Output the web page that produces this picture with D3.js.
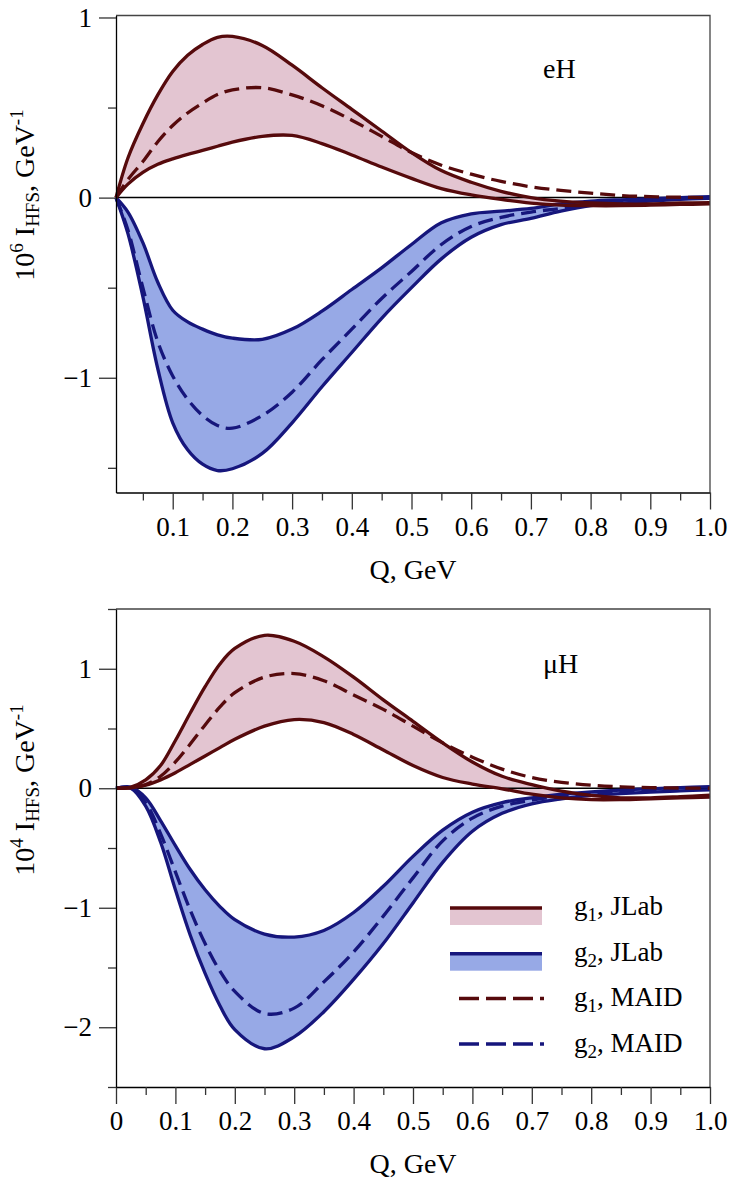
<!DOCTYPE html>
<html>
<head>
<meta charset="utf-8">
<script src="https://cdn.jsdelivr.net/npm/d3@7"></script>
<style>
  body { margin: 0; background: #fff; }
  svg { font-family: "Liberation Serif", "DejaVu Serif", serif; }
</style>
</head>
<body>
<svg id="chart" width="750" height="1188"></svg>
<script>
// Q grid (GeV)
var qEH = [0.005, 0.025, 0.05, 0.075, 0.1, 0.125, 0.15, 0.175, 0.2, 0.25, 0.3, 0.35, 0.4, 0.45, 0.5, 0.55, 0.6, 0.65, 0.7, 0.75, 0.8, 0.85, 0.9, 0.95, 1.0]
var qMuH = [0, 0.025, 0.05, 0.075, 0.1, 0.125, 0.15, 0.175, 0.2, 0.25, 0.3, 0.35, 0.4, 0.45, 0.5, 0.55, 0.6, 0.65, 0.7, 0.75, 0.8, 0.85, 0.9, 0.95, 1.0]

// eH, 10^6 I_HFS
var eH_g1_hi = [0, 0.22, 0.41, 0.57, 0.7, 0.79, 0.85, 0.89, 0.895, 0.845, 0.735, 0.61, 0.49, 0.37, 0.25, 0.15, 0.085, 0.035, 0.0, -0.02, -0.03, -0.035, -0.035, -0.03, -0.028]
var eH_g1_lo = [0, 0.075, 0.14, 0.185, 0.215, 0.24, 0.262, 0.285, 0.308, 0.34, 0.345, 0.30, 0.237, 0.17, 0.107, 0.05, 0.015, -0.01, -0.03, -0.042, -0.045, -0.045, -0.042, -0.038, -0.035]
var eH_g1_maid = [0, 0.1, 0.2, 0.31, 0.4, 0.47, 0.525, 0.572, 0.598, 0.61, 0.57, 0.51, 0.43, 0.34, 0.25, 0.18, 0.13, 0.09, 0.06, 0.04, 0.025, 0.012, 0.005, 0.002, 0]
var eH_g2_hi = [0, -0.08, -0.25, -0.47, -0.625, -0.69, -0.73, -0.762, -0.78, -0.787, -0.73, -0.63, -0.51, -0.39, -0.26, -0.14, -0.09, -0.075, -0.06, -0.035, -0.02, -0.012, -0.006, 0.0, 0.005]
var eH_g2_lo = [0, -0.2, -0.55, -0.95, -1.25, -1.4, -1.48, -1.515, -1.505, -1.42, -1.25, -1.05, -0.86, -0.67, -0.5, -0.34, -0.22, -0.15, -0.115, -0.075, -0.045, -0.03, -0.02, -0.01, -0.004]
var eH_g2_maid = [0, -0.18, -0.5, -0.8, -0.99, -1.12, -1.21, -1.265, -1.28, -1.21, -1.08, -0.9, -0.73, -0.56, -0.41, -0.26, -0.16, -0.11, -0.08, -0.06, -0.035, -0.02, -0.012, -0.006, -0.002]

// muH, 10^4 I_HFS
var muH_g1_hi = [0, 0.01, 0.07, 0.19, 0.4, 0.63, 0.85, 1.04, 1.17, 1.28, 1.23, 1.1, 0.93, 0.74, 0.56, 0.38, 0.22, 0.1, 0.03, -0.025, -0.06, -0.08, -0.08, -0.07, -0.058]
var muH_g1_lo = [0, 0.003, 0.025, 0.07, 0.13, 0.2, 0.27, 0.34, 0.41, 0.52, 0.575, 0.55, 0.45, 0.32, 0.19, 0.09, 0.035, -0.005, -0.05, -0.08, -0.095, -0.095, -0.088, -0.08, -0.075]
var muH_g1_maid = [0, 0.005, 0.03, 0.1, 0.22, 0.37, 0.53, 0.68, 0.8, 0.93, 0.96, 0.9, 0.78, 0.66, 0.52, 0.38, 0.26, 0.16, 0.09, 0.05, 0.025, 0.012, 0.005, 0.002, 0]
var muH_g2_hi = [0, 0.01, -0.08, -0.27, -0.48, -0.68, -0.85, -0.99, -1.1, -1.22, -1.245, -1.19, -1.04, -0.82, -0.57, -0.35, -0.2, -0.12, -0.08, -0.05, -0.03, -0.015, -0.005, 0.005, 0.014]
var muH_g2_lo = [0, 0.0, -0.15, -0.45, -0.85, -1.23, -1.55, -1.82, -2.02, -2.18, -2.08, -1.87, -1.6, -1.3, -0.96, -0.62, -0.36, -0.21, -0.13, -0.088, -0.06, -0.045, -0.032, -0.022, -0.014]
var muH_g2_maid = [0, 0.0, -0.12, -0.38, -0.7, -1.02, -1.3, -1.53, -1.7, -1.885, -1.84, -1.62, -1.37, -1.07, -0.75, -0.44, -0.25, -0.15, -0.1, -0.066, -0.045, -0.03, -0.02, -0.012, -0.008]

var xMajor = [0.1, 0.2, 0.3, 0.4, 0.5, 0.6, 0.7, 0.8, 0.9, 1.0]
var xMinor = [0.05, 0.15, 0.25, 0.35, 0.45, 0.55, 0.65, 0.75, 0.85, 0.95]
var legendLabels = ["JLab", "JLab", "MAID", "MAID"]

var red = "#560a0c", pink = "#e3c5d1", navy = "#16167c", lightBlue = "#97a9e6"
var serif = "Liberation Serif, DejaVu Serif, serif"

var svg = d3.select("#chart")

function panel(cfg) {
    var x = d3.scaleLinear().domain(cfg.xDomain).range([116, 710])
    var y = d3.scaleLinear().domain(cfg.yDomain).range([cfg.bottom, cfg.top])
    var g = svg.append("g")

    var rows = cfg.q.map(function(q, i) {
        return { q: q, g1hi: cfg.g1hi[i], g1lo: cfg.g1lo[i], g1m: cfg.g1m[i], g2hi: cfg.g2hi[i], g2lo: cfg.g2lo[i], g2m: cfg.g2m[i] }
    })
    var curve = d3.curveCatmullRom.alpha(0.5)

    var area = function(a, b) {
        return d3.area().curve(curve).x(function(d) { return x(d.q) })
            .y0(function(d) { return y(d[a]) }).y1(function(d) { return y(d[b]) })
    }
    var line = function(k) {
        return d3.line().curve(curve).x(function(d) { return x(d.q) }).y(function(d) { return y(d[k]) })
    }

    g.append("path").datum(rows).attr("d", area("g1lo", "g1hi")).attr("fill", pink)
    g.append("path").datum(rows).attr("d", area("g2lo", "g2hi")).attr("fill", lightBlue)

    // zero line
    g.append("line").attr("x1", x.range()[0]).attr("x2", x.range()[1])
        .attr("y1", y(0)).attr("y2", y(0)).attr("stroke", "#000").attr("stroke-width", 1.5)

    ;[["g2hi", navy, null], ["g2lo", navy, null], ["g2m", navy, "15,7"],
      ["g1hi", red, null], ["g1lo", red, null], ["g1m", red, "15,7"]].forEach(function(s) {
        g.append("path").datum(rows).attr("d", line(s[0]))
            .attr("fill", "none").attr("stroke", s[1]).attr("stroke-width", 3.3)
            .attr("stroke-dasharray", s[2])
    })

    // frame top / right
    g.append("path")
        .attr("d", "M" + x.range()[0] + "," + cfg.top + "H" + x.range()[1] + "V" + cfg.bottom)
        .attr("fill", "none").attr("stroke", "#444").attr("stroke-width", 1.3)

    // axes
    var fmt = function(d) { return d === 0 ? "0" : d3.format(".1f")(d) }
    g.append("g").attr("transform", "translate(0," + cfg.bottom + ")")
        .call(d3.axisBottom(x).tickValues(cfg.xTicks).tickSize(17).tickSizeOuter(0).tickPadding(7).tickFormat(fmt))
    g.append("g").attr("transform", "translate(0," + cfg.bottom + ")")
        .call(d3.axisBottom(x).tickValues(xMinor).tickSize(8).tickFormat(""))
        .select(".domain").remove()

    g.append("g").attr("transform", "translate(" + x.range()[0] + ",0)")
        .call(d3.axisLeft(y).tickValues(cfg.yMajor).tickSize(17).tickSizeOuter(0).tickPadding(7)
            .tickFormat(function(d) { return d < 0 ? "\u2212" + Math.abs(d) : d }))
    g.append("g").attr("transform", "translate(" + x.range()[0] + ",0)")
        .call(d3.axisLeft(y).tickValues(cfg.yMinor).tickSize(8).tickFormat(""))
        .select(".domain").remove()

    g.selectAll(".tick text").attr("font-size", 27).attr("font-family", serif).attr("fill", "#000")
    g.selectAll(".tick line").attr("stroke", "#333").attr("stroke-width", 1.3)
    g.selectAll(".domain").attr("stroke", "#000").attr("stroke-width", 1.3)

    g.append("text").attr("x", 413).attr("y", cfg.bottom + 86)
        .attr("text-anchor", "middle").attr("font-size", 28).text("Q, GeV")

    var yt = g.append("text")
        .attr("transform", "translate(34," + cfg.titleY + ") rotate(-90)")
        .attr("text-anchor", "middle").attr("font-size", 28)
    yt.append("tspan").text("10")
    yt.append("tspan").attr("font-size", 19).attr("dy", -11).text(cfg.power)
    yt.append("tspan").attr("dy", 11).text(" I")
    yt.append("tspan").attr("font-size", 19).attr("dy", 5).text("HFS")
    yt.append("tspan").attr("dy", -5).text(", GeV")
    yt.append("tspan").attr("font-size", 19).attr("dy", -11).text("-1")

    g.append("text").attr("x", cfg.tagX).attr("y", cfg.tagY).attr("font-size", 28).text(cfg.tag)
    return { x: x, y: y, g: g }
}

panel({ q: qEH, g1hi: eH_g1_hi, g1lo: eH_g1_lo, g1m: eH_g1_maid, g2hi: eH_g2_hi, g2lo: eH_g2_lo, g2m: eH_g2_maid,
    xDomain: [0.005, 1], yDomain: [-1.637, 1.011], top: 15.5, bottom: 492.5,
    xTicks: xMajor, yMajor: [1, 0, -1], yMinor: [0.5, -0.5, -1.5],
    power: "6", tag: "eH", tagX: 543, tagY: 78, titleY: 195 })

panel({ q: qMuH, g1hi: muH_g1_hi, g1lo: muH_g1_lo, g1m: muH_g1_maid, g2hi: muH_g2_hi, g2lo: muH_g2_lo, g2m: muH_g2_maid,
    xDomain: [0, 1], yDomain: [-2.5, 1.5], top: 609, bottom: 1087,
    xTicks: [0].concat(xMajor), yMajor: [1, 0, -1, -2], yMinor: [1.5, 0.5, -0.5, -1.5, -2.5],
    power: "4", tag: "\u03bcH", tagX: 543, tagY: 673, titleY: 790 })

// legend
var legend = svg.append("g").attr("transform", "translate(450,907)")
var entries = [
    { g: "1", lab: legendLabels[0], col: red, fill: pink, dash: null },
    { g: "2", lab: legendLabels[1], col: navy, fill: lightBlue, dash: null },
    { g: "1", lab: legendLabels[2], col: red, fill: null, dash: "20,7" },
    { g: "2", lab: legendLabels[3], col: navy, fill: null, dash: "20,7" }
]
entries.forEach(function(e, i) {
    var row = legend.append("g").attr("transform", "translate(0," + (i * 45.7) + ")")
    if (e.fill) {
        row.append("rect").attr("x", 0).attr("y", 0).attr("width", 92).attr("height", 18).attr("fill", e.fill)
        row.append("line").attr("x1", 0).attr("x2", 92).attr("y1", 1).attr("y2", 1)
            .attr("stroke", e.col).attr("stroke-width", 3.5)
    } else {
        row.append("line").attr("x1", 9).attr("x2", 94).attr("y1", 0).attr("y2", 0)
            .attr("stroke", e.col).attr("stroke-width", 3.5).attr("stroke-dasharray", e.dash)
    }
    var t = row.append("text").attr("x", 124).attr("y", 8).attr("font-size", 27)
    t.append("tspan").text("g")
    t.append("tspan").attr("font-size", 19).attr("dy", 6).text(e.g)
    t.append("tspan").attr("dy", -6).text(", " + e.lab)
})
</script>
</body>
</html>
